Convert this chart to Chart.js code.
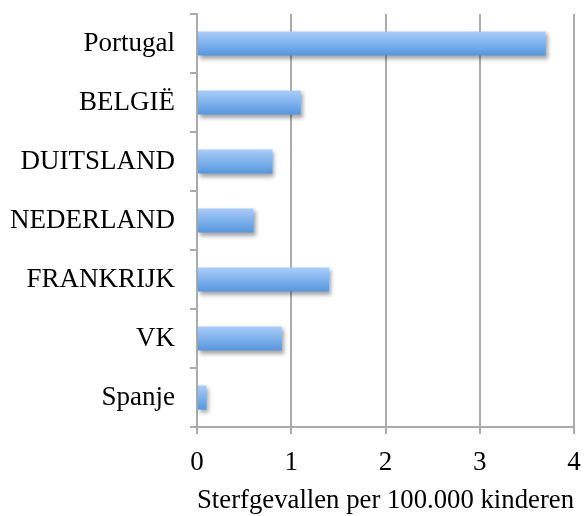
<!DOCTYPE html>
<html>
<head>
<meta charset="utf-8">
<script src="https://cdn.jsdelivr.net/npm/chart.js@4/dist/chart.umd.min.js"></script>
<style>
  html, body { margin: 0; padding: 0; background: #fff; }
  #wrap { width: 585px; height: 516px; position: relative; }
</style>
</head>
<body>
<div id="wrap"><canvas id="sterfteChart"></canvas></div>
<script>
// Data
const countries = ['Portugal', 'BELGIË', 'DUITSLAND', 'NEDERLAND', 'FRANKRIJK', 'VK', 'Spanje'];
const deaths = [3.7, 1.1, 0.8, 0.6, 1.4, 0.9, 0.1];
const xTicks = [0, 1, 2, 3, 4];
const axisTitle = 'Sterfgevallen per 100.000 kinderen';

const serif = 'Liberation Serif, Times New Roman, serif';
const gridGrey = '#ababab';

// soft drop shadow under the bars
const barShadow = {
  id: 'barShadow',
  beforeDatasetsDraw(chart) {
    const c = chart.ctx;
    c.save();
    c.shadowColor = 'rgba(0,0,0,0.35)';
    c.shadowBlur = 4;
    c.shadowOffsetX = 2;
    c.shadowOffsetY = 3;
  },
  afterDatasetsDraw(chart) {
    chart.ctx.restore();
  }
};

function barGradient(context) {
  const chart = context.chart;
  const { ctx, chartArea, scales } = chart;
  if (!chartArea) return '#7fb0ec';
  const yc = scales.y.getPixelForValue(context.dataIndex);
  const g = ctx.createLinearGradient(0, yc - 12, 0, yc + 12);
  g.addColorStop(0, '#a9cdfa');
  g.addColorStop(1, '#5597df');
  return g;
}

new Chart(document.getElementById('sterfteChart'), {
  type: 'bar',
  data: {
    labels: countries,
    datasets: [{
      data: deaths,
      backgroundColor: barGradient,
      borderWidth: 0,
      barPercentage: 0.41,
      categoryPercentage: 1
    }]
  },
  plugins: [barShadow],
  options: {
    indexAxis: 'y',
    responsive: true,
    maintainAspectRatio: false,
    animation: false,
    layout: { padding: { top: 14, right: 11, left: 0, bottom: 0 } },
    plugins: {
      legend: { display: false },
      tooltip: { enabled: false }
    },
    scales: {
      x: {
        min: 0,
        max: 4,
        afterBuildTicks(axis) {
          axis.ticks = xTicks.map(v => ({ value: v }));
        },
        afterFit(axis) {
          axis.height = 89;
          axis.paddingLeft = 0;
          axis.paddingRight = 0;
        },
        grid: { color: gridGrey, lineWidth: 2, tickLength: 7 },
        border: { display: true, color: gridGrey, width: 2 },
        ticks: {
          color: '#000',
          padding: 13,
          font: { family: serif, size: 27 }
        },
        title: {
          display: true,
          text: axisTitle,
          color: '#000',
          padding: { top: 0, bottom: 0 },
          font: { family: serif, size: 27, lineHeight: 1.1 }
        }
      },
      y: {
        afterFit(axis) {
          axis.width = 197;
          axis.paddingTop = 0;
          axis.paddingBottom = 0;
        },
        grid: { drawOnChartArea: false, color: gridGrey, lineWidth: 2, tickLength: 7, offset: true },
        border: { display: true, color: gridGrey, width: 2 },
        ticks: {
          color: '#000',
          padding: 15,
          font: { family: serif, size: 27 }
        }
      }
    }
  }
});
</script>
</body>
</html>
